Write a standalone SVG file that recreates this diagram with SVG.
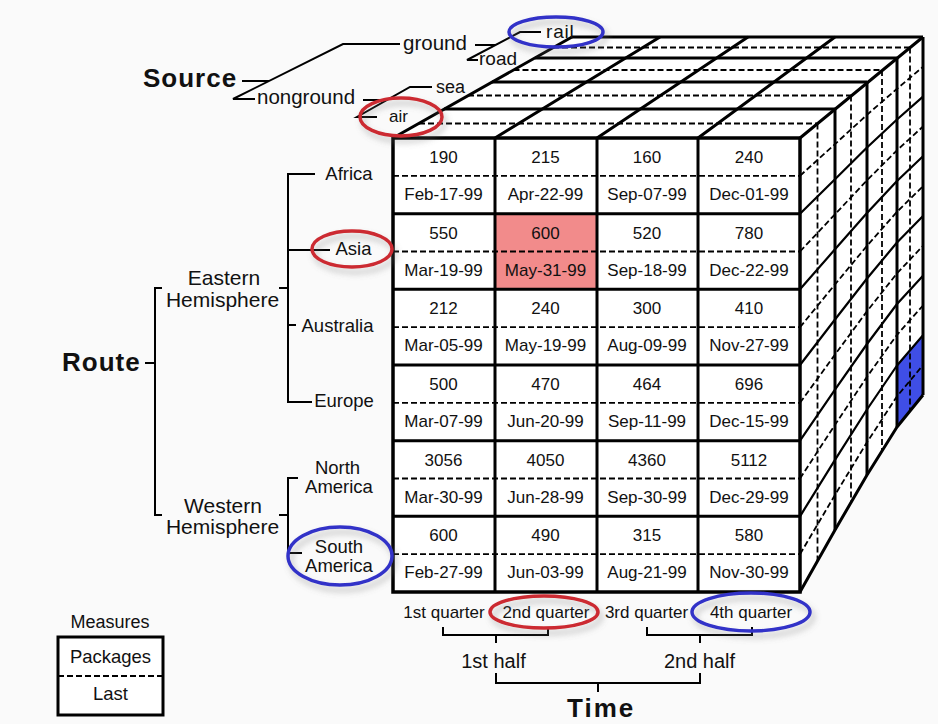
<svg xmlns="http://www.w3.org/2000/svg" width="938" height="724" viewBox="0 0 938 724">
<defs>
<style>
text{font-family:"Liberation Sans",Arial,sans-serif;fill:#111}
.c{font-size:17px;text-anchor:middle}
.lab{font-size:18.5px;text-anchor:middle}
.hem{font-size:21px;text-anchor:middle}
.src{font-size:20.5px}
.sm{font-size:18px}
.big{font-size:26px;font-weight:bold;letter-spacing:1px}
.q{font-size:17px;text-anchor:middle}
.half{font-size:20px;text-anchor:middle}
.ln{fill:none;stroke:#000;stroke-width:2}
.th{fill:none;stroke:#000;stroke-width:3}
.rw{fill:none;stroke:#000;stroke-width:2.2;stroke-linejoin:round}
.ds{fill:none;stroke:#000;stroke-width:1.8;stroke-dasharray:6 3}
.hr{fill:none;stroke:#cc2a30;stroke-width:3.5;filter:url(#sh)}
.hb{fill:none;stroke:#3232c8;stroke-width:3.5;filter:url(#sh)}
</style>
<filter id="sh" x="-30%" y="-50%" width="160%" height="200%">
<feDropShadow dx="3" dy="5" stdDeviation="3" flood-color="#777" flood-opacity="0.45"/>
</filter>
</defs>
<rect width="938" height="724" fill="#fafafa"/>

<g id="cube">
<polygon points="393,592 393,138 572,37 923,37 923,395 897,427 867,475 835,530 800,592" fill="#fff"/>
<rect x="495" y="213.7" width="102" height="75.6" fill="#f28b8b"/>
<polygon points="897,365.5 923,335.3 923,395 897,427" fill="#3f4ee6"/>
<g class="ds">
<path d="M419,123.5 H817.5 M468,95.5 H851 M513.5,70 H882 M553,47.5 H910"/>
</g>
<g class="th">
<path d="M444,109 H835 M492,82 H867 M535,58 H897 M572,37 H923"/>
<path d="M393,138 L572,37 M495,138 L660,37 M597,138 L748,37 M698,138 L835,37 M800,138 L923,37"/>
</g>
<g class="ds">
<path d="M817.5,123.5 V561 M851,95.5 V502.5 M882,70 V451 M910,47.5 V411"/>
<path d="M800,175.8 L835,144.1 L867,114.8 L897,88.8 L923,66.8"/>
<path d="M800,251.5 L835,214.3 L867,180.3 L897,150.3 L923,126.5"/>
<path d="M800,327.2 L835,284.4 L867,245.8 L897,211.8 L923,186.2"/>
<path d="M800,402.8 L835,354.6 L867,311.3 L897,273.3 L923,245.8"/>
<path d="M800,478.5 L835,424.8 L867,376.8 L897,334.8 L923,305.5"/>
<path d="M800,554.2 L835,494.9 L867,442.3 L897,396.3 L923,365.2"/>
</g>
<g class="rw">
<path d="M800,213.7 L835,179.2 L867,147.5 L897,119.5 L923,96.7"/>
<path d="M800,289.3 L835,249.3 L867,213 L897,181 L923,156.3"/>
<path d="M800,365 L835,319.5 L867,278.5 L897,242.5 L923,216"/>
<path d="M800,440.7 L835,389.7 L867,344 L897,304 L923,275.7"/>
<path d="M800,516.3 L835,459.8 L867,409.5 L897,365.5 L923,335.3"/>
</g>
<g class="th">
<path d="M835,109 V530 M867,82 V475 M897,58 V427 M923,37 V395"/>
<path d="M800,592 L835,530 L867,475 L897,427 L923,395" stroke-linejoin="round"/>
</g>
<g class="ds">
<path d="M393,175.8 H800 M393,251.5 H800 M393,327.2 H800 M393,402.8 H800 M393,478.5 H800 M393,554.2 H800"/>
</g>
<g class="th">
<path d="M393,213.7 H800 M393,289.3 H800 M393,365 H800 M393,440.7 H800 M393,516.3 H800"/>
<path d="M495,138 V592 M597,138 V592 M698,138 V592"/>
<rect x="393" y="138" width="407" height="454" stroke-width="3.5"/>
</g>
<g id="cells">
<text class="c" x="443.5" y="163">190</text><text class="c" x="443.5" y="200">Feb-17-99</text>
<text class="c" x="545.5" y="163">215</text><text class="c" x="545.5" y="200">Apr-22-99</text>
<text class="c" x="647" y="163">160</text><text class="c" x="647" y="200">Sep-07-99</text>
<text class="c" x="749" y="163">240</text><text class="c" x="749" y="200">Dec-01-99</text>

<text class="c" x="443.5" y="238.7">550</text><text class="c" x="443.5" y="275.7">Mar-19-99</text>
<text class="c" x="545.5" y="238.7">600</text><text class="c" x="545.5" y="275.7">May-31-99</text>
<text class="c" x="647" y="238.7">520</text><text class="c" x="647" y="275.7">Sep-18-99</text>
<text class="c" x="749" y="238.7">780</text><text class="c" x="749" y="275.7">Dec-22-99</text>

<text class="c" x="443.5" y="314.3">212</text><text class="c" x="443.5" y="351.3">Mar-05-99</text>
<text class="c" x="545.5" y="314.3">240</text><text class="c" x="545.5" y="351.3">May-19-99</text>
<text class="c" x="647" y="314.3">300</text><text class="c" x="647" y="351.3">Aug-09-99</text>
<text class="c" x="749" y="314.3">410</text><text class="c" x="749" y="351.3">Nov-27-99</text>

<text class="c" x="443.5" y="390">500</text><text class="c" x="443.5" y="427">Mar-07-99</text>
<text class="c" x="545.5" y="390">470</text><text class="c" x="545.5" y="427">Jun-20-99</text>
<text class="c" x="647" y="390">464</text><text class="c" x="647" y="427">Sep-11-99</text>
<text class="c" x="749" y="390">696</text><text class="c" x="749" y="427">Dec-15-99</text>

<text class="c" x="443.5" y="465.7">3056</text><text class="c" x="443.5" y="502.7">Mar-30-99</text>
<text class="c" x="545.5" y="465.7">4050</text><text class="c" x="545.5" y="502.7">Jun-28-99</text>
<text class="c" x="647" y="465.7">4360</text><text class="c" x="647" y="502.7">Sep-30-99</text>
<text class="c" x="749" y="465.7">5112</text><text class="c" x="749" y="502.7">Dec-29-99</text>

<text class="c" x="443.5" y="541.3">600</text><text class="c" x="443.5" y="578.3">Feb-27-99</text>
<text class="c" x="545.5" y="541.3">490</text><text class="c" x="545.5" y="578.3">Jun-03-99</text>
<text class="c" x="647" y="541.3">315</text><text class="c" x="647" y="578.3">Aug-21-99</text>
<text class="c" x="749" y="541.3">580</text><text class="c" x="749" y="578.3">Nov-30-99</text>
</g>
</g>

<g id="connectors" class="ln">
<path d="M242,81 H269 M400,44 H343 L233,99 H255 M475,45 H495 M478,60 H467 L520,32 H541 M363,100 H387 M377,117 H357 L410,87 H432"/>
<path d="M145,363 H155 M162,288 H155 V515 H162 M279,288 H288 M315,174 H288 V402 H312 M288,250 H330 M288,325 H296 M279,515 H288 M298,478 H288 V553 H302"/>
<path d="M443,627 V635 H548 V627 M496,635 V643 M647,627 V635 H752 V627 M700,635 V643 M496,673 V683 H700 V673 M598,683 V692"/>
</g>

<g id="source-axis">
<text class="big" x="143" y="87">Source</text>
<text class="src" x="403" y="50">ground</text>
<text class="src" x="257" y="104">nonground</text>
<text class="sm" x="479" y="65" style="font-size:19px">road</text>
<text class="sm" x="546" y="38" style="font-size:19px;letter-spacing:0.8px">rail</text>
<text class="sm" x="436" y="93">sea</text>
<text class="sm" x="389" y="122" style="font-size:17px">air</text>
</g>

<g id="route-axis">
<text class="big" x="62" y="371">Route</text>
<text class="hem" x="224" y="285">Eastern</text>
<text class="hem" x="222.5" y="307">Hemisphere</text>
<text class="hem" x="223" y="513">Western</text>
<text class="hem" x="222.5" y="534">Hemisphere</text>
<text class="lab" x="349" y="180">Africa</text>
<text class="lab" x="353.5" y="255">Asia</text>
<text class="lab" x="337.5" y="332">Australia</text>
<text class="lab" x="344" y="407">Europe</text>
<text class="lab" x="337.5" y="474">North</text>
<text class="lab" x="339" y="493">America</text>
<text class="lab" x="339" y="553">South</text>
<text class="lab" x="339" y="572">America</text>
</g>

<g id="time-axis">
<text class="q" x="444" y="618">1st quarter</text>
<text class="q" x="546" y="618">2nd quarter</text>
<text class="q" x="646.5" y="618">3rd quarter</text>
<text class="q" x="751" y="618">4th quarter</text>
<text class="half" x="493.5" y="668">1st half</text>
<text class="half" x="699.5" y="668">2nd half</text>
<text class="big" x="567" y="717" style="letter-spacing:2px">Time</text>
</g>

<g id="measures">
<text class="sm" x="110" y="628" text-anchor="middle">Measures</text>
<rect x="58" y="637" width="105" height="78" fill="#fff" stroke="#000" stroke-width="3"/>
<path class="ds" d="M58,676 H163"/>
<text class="lab" x="110.5" y="663">Packages</text>
<text class="lab" x="110.5" y="700">Last</text>
</g>

<g id="highlights">
<ellipse class="hb" cx="556" cy="32" rx="47" ry="15"/>
<ellipse class="hr" cx="401" cy="117" rx="41" ry="19"/>
<ellipse class="hr" cx="352" cy="249" rx="40" ry="18"/>
<ellipse class="hb" cx="340" cy="556" rx="52" ry="29"/>
<ellipse class="hr" cx="544" cy="612" rx="54" ry="16"/>
<ellipse class="hb" cx="751" cy="612" rx="59" ry="19"/>
</g>
</svg>
